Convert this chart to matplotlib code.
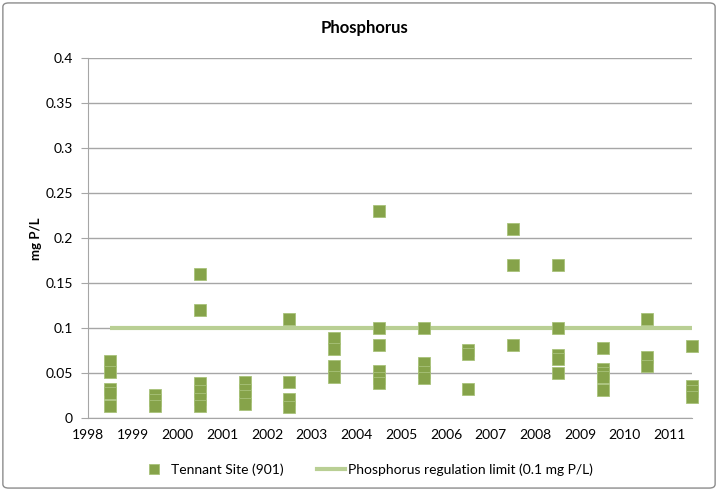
import numpy as np
import matplotlib
matplotlib.use("Agg")
import matplotlib.pyplot as plt
from matplotlib.patches import FancyBboxPatch
from matplotlib.lines import Line2D

plt.rcParams["font.family"] = ["Lato", "DejaVu Sans"]

# sampling years (samples plotted mid-year) and measured phosphorus, mg P/L
YEARS = [1998, 1999, 2000, 2001, 2002, 2003, 2004, 2005, 2006, 2007, 2008, 2009, 2010, 2011]
PHOS = [
    [0.064, 0.052, 0.033, 0.028, 0.014],
    [0.026, 0.020, 0.014],
    [0.160, 0.120, 0.039, 0.030, 0.022, 0.014],
    [0.040, 0.032, 0.025, 0.016],
    [0.110, 0.040, 0.022, 0.013],
    [0.089, 0.077, 0.058, 0.046],
    [0.230, 0.100, 0.081, 0.053, 0.045, 0.039],
    [0.100, 0.061, 0.052, 0.045],
    [0.076, 0.072, 0.033],
    [0.210, 0.170, 0.081],
    [0.170, 0.100, 0.070, 0.066, 0.050],
    [0.078, 0.055, 0.050, 0.046, 0.032],
    [0.110, 0.068, 0.058],
    [0.080, 0.036, 0.030, 0.024],
]
LIMIT = 0.1

xs = np.concatenate([[y + 0.5] * len(v) for y, v in zip(YEARS, PHOS)])
ys = np.concatenate(PHOS)

fig = plt.figure(figsize=(7.18, 4.91), dpi=100)
fig.patches.append(FancyBboxPatch((0.004, 0.006), 0.992, 0.988,
                                  boxstyle="round,pad=0,rounding_size=0.008",
                                  transform=fig.transFigure, fc="white",
                                  ec="#8c8c8c", lw=1.0, zorder=-1))
ax = fig.add_axes([0.1226, 0.148, 0.8412, 0.733])
ax.set_facecolor("none")

ax.plot([YEARS[0] + 0.5, YEARS[-1] + 0.5], [LIMIT, LIMIT], color="#b9cf94",
        lw=3, zorder=2, solid_capstyle="butt")
ax.plot(xs, ys, ls="none", marker="s", ms=8.8, mfc="#86a34a", mec="#a8c27a",
        mew=0.6, zorder=3, clip_on=False)

ax.set_xlim(1998, 2011.5)
ax.set_ylim(0, 0.4)
ax.set_xticks(YEARS)
ax.set_xticklabels([str(y) for y in YEARS])
yt = np.arange(0, 0.401, 0.05)
ax.set_yticks(yt)
ax.set_yticklabels(["0", "0.05", "0.1", "0.15", "0.2", "0.25", "0.3", "0.35", "0.4"])
ax.yaxis.grid(True, color="#a6a6a6", lw=1)
ax.set_axisbelow(True)
for s in ["top", "right"]:
    ax.spines[s].set_visible(False)
for s in ["left", "bottom"]:
    ax.spines[s].set_color("#a6a6a6")
ax.tick_params(axis="y", length=5, color="#a6a6a6", labelsize=10, pad=6)
ax.tick_params(axis="x", length=0, labelsize=10, pad=8)

ax.set_ylabel("mg P/L", fontsize=9.5, fontweight="bold", labelpad=2)
fig.text(0.508, 0.942, "Phosphorus", ha="center", va="center",
         fontsize=12, fontweight="bold")

handles = [
    Line2D([], [], ls="none", marker="s", ms=7.5, mfc="#86a34a", mec="#a8c27a", mew=0.6),
    Line2D([], [], color="#b9cf94", lw=3),
]
fig.legend(handles, ["Tennant Site (901)", "Phosphorus regulation limit (0.1 mg P/L)"],
           loc="center", bbox_to_anchor=(0.5105, 0.043), ncol=2, frameon=False,
           fontsize=10, handlelength=2.0, columnspacing=2.4, handletextpad=0.25)

fig.savefig("out.png", dpi=100)
